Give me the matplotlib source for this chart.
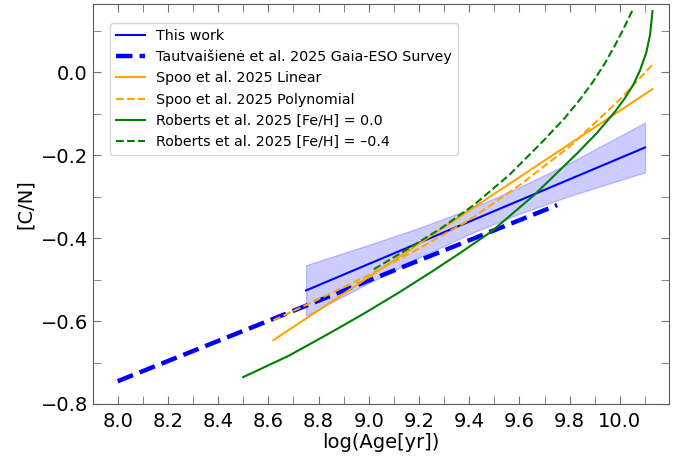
import numpy as np
import matplotlib.pyplot as plt
from matplotlib.ticker import MultipleLocator

# This work: linear fit and its uncertainty band
this_x = [8.75, 10.1]
this_y = [-0.526, -0.181]
band_x = [8.75, 9.0, 9.2, 9.4, 9.6, 9.8, 10.1]
band_hi = [-0.465, -0.416, -0.375, -0.330, -0.277, -0.218, -0.121]
band_lo = [-0.587, -0.508, -0.447, -0.390, -0.341, -0.298, -0.241]

# Tautvaisiene et al. 2025 (Gaia-ESO)
taut_x = [8.0, 9.75]
taut_y = [-0.745, -0.320]

# Spoo et al. 2025
spoo_lin_x = [8.62, 10.13]
spoo_lin_y = [-0.646, -0.040]
spoo_poly_x = [8.62, 8.8, 9.0, 9.2, 9.4, 9.6, 9.8, 10.0, 10.13]
spoo_poly_y = [-0.598, -0.547, -0.489, -0.425, -0.356, -0.272, -0.179, -0.065, 0.019]

# Roberts et al. 2025
rob0_x = [8.50, 8.68, 8.85, 8.98, 9.12, 9.25, 9.37, 9.49, 9.66, 9.83, 9.91, 9.98,
          10.02, 10.055, 10.08, 10.105, 10.12, 10.13]
rob0_y = [-0.735, -0.684, -0.627, -0.582, -0.531, -0.481, -0.433, -0.383, -0.295, -0.195,
          -0.145, -0.095, -0.062, -0.028, 0.005, 0.048, 0.090, 0.148]
rob4_x = [9.02, 9.16, 9.29, 9.42, 9.56, 9.69, 9.78, 9.84, 9.89, 9.94, 9.98, 10.01, 10.03, 10.05]
rob4_y = [-0.475, -0.424, -0.375, -0.319, -0.247, -0.168, -0.110, -0.066, -0.025, 0.022,
          0.065, 0.100, 0.125, 0.150]

fig, ax = plt.subplots(figsize=(6.86, 4.57), dpi=100)
fig.subplots_adjust(left=0.135, right=0.975, bottom=0.116, top=0.991)

ax.plot(this_x, this_y, color='blue', lw=1.5, label='This work')
ax.plot(taut_x, taut_y, color='blue', lw=3.2, ls='--', label='Tautvaišienė et al. 2025 Gaia-ESO Survey')
ax.plot(spoo_lin_x, spoo_lin_y, color='orange', lw=1.5, label='Spoo et al. 2025 Linear')
ax.plot(spoo_poly_x, spoo_poly_y, color='orange', lw=1.5, ls='--', label='Spoo et al. 2025 Polynomial')
ax.plot(rob0_x, rob0_y, color='green', lw=1.5, label='Roberts et al. 2025 [Fe/H] = 0.0')
ax.plot(rob4_x, rob4_y, color='green', lw=1.5, ls='--', label='Roberts et al. 2025 [Fe/H] = –0.4')
ax.fill_between(band_x, band_lo, band_hi, color='blue', alpha=0.2)

ax.set_xlim(7.9, 10.195)
ax.set_ylim(-0.8, 0.165)
ax.xaxis.set_major_locator(MultipleLocator(0.2))
ax.xaxis.set_minor_locator(MultipleLocator(0.1))
ax.yaxis.set_major_locator(MultipleLocator(0.2))
ax.yaxis.set_minor_locator(MultipleLocator(0.1))
ax.tick_params(which='both', direction='in', top=True, right=True, length=6,
               color='0.45', labelsize=14)
ax.tick_params(axis='x', pad=6)
for s in ax.spines.values():
    s.set_color('0.35')

ax.set_xlabel('log(Age[yr])', fontsize=14, labelpad=1)
ax.set_ylabel('[C/N]', fontsize=14)

ax.legend(loc='upper left', bbox_to_anchor=(0.031, 0.953), borderaxespad=0, fontsize=10.3)

fig.savefig('out.png', dpi=100)
